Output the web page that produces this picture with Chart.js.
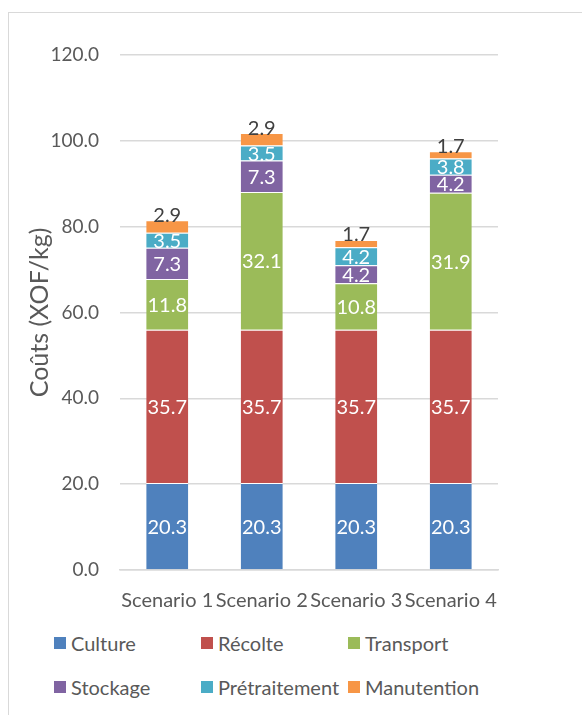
<!DOCTYPE html>
<html>
<head>
<meta charset="utf-8">
<script src="https://cdn.jsdelivr.net/npm/chart.js@4"></script>
<style>
  body { margin: 0; background: #fff; font-family: Lato, sans-serif; }
  #frame { position: absolute; left: 8px; top: 12px; width: 620px; height: 740px;
           border-left: 1px solid #d9d9d9; border-top: 1px solid #d9d9d9; }
  #wrap { position: absolute; left: 0; top: 0; width: 582px; height: 620px; }
  #legend { position: absolute; left: 54px; top: 628px; width: 520px;
            display: grid; grid-template-columns: 147px 147px 180px; row-gap: 14px;
            font-size: 20px; color: #595959; }
  .item { display: flex; align-items: center; height: 30px; white-space: nowrap; }
  .box { width: 12px; height: 12px; margin-right: 5px; flex: none; }
</style>
</head>
<body>
<div id="frame"></div>
<div id="wrap"><canvas id="chartCanvas"></canvas></div>
<div id="legend"></div>
<script>
// データ
const scenarios = ['Scenario 1', 'Scenario 2', 'Scenario 3', 'Scenario 4'];
const seriesNames = ['Culture', 'Récolte', 'Transport', 'Stockage', 'Prétraitement', 'Manutention'];
const culture = [20.3, 20.3, 20.3, 20.3];
const recolte = [35.7, 35.7, 35.7, 35.7];
const transport = [11.8, 32.1, 10.8, 31.9];
const stockage = [7.3, 7.3, 4.2, 4.2];
const pretraitement = [3.5, 3.5, 4.2, 3.8];
const manutention = [2.9, 2.9, 1.7, 1.7];
const colors = ['#4F81BD', '#C0504D', '#9BBB59', '#8064A2', '#4BACC6', '#F79646'];

const allValues = [culture, recolte, transport, stockage, pretraitement, manutention];

// ラベル描画プラグイン
const valueLabels = {
    id: 'valueLabels',
    afterDatasetsDraw(chart) {
        const ctx = chart.ctx;
        ctx.save();
        ctx.font = '20px Lato';
        ctx.textAlign = 'center';
        chart.data.datasets.forEach((ds, i) => {
            const meta = chart.getDatasetMeta(i);
            meta.data.forEach((bar, j) => {
                const txt = ds.data[j].toFixed(1);
                if (i === chart.data.datasets.length - 1) {
                    ctx.fillStyle = '#404040';
                    ctx.textBaseline = 'bottom';
                    ctx.fillText(txt, bar.x, bar.y + 5);
                } else {
                    ctx.fillStyle = '#ffffff';
                    ctx.textBaseline = 'middle';
                    ctx.fillText(txt, bar.x, (bar.y + bar.base) / 2 + 1);
                }
            });
        });
        ctx.restore();
    }
};

const datasets = seriesNames.map((name, i) => ({
    label: name,
    data: allValues[i],
    backgroundColor: colors[i],
    borderColor: '#ffffff',
    borderWidth: { top: 1, bottom: 0, left: 0, right: 0 },
    borderSkipped: false,
    barPercentage: 0.445,
    categoryPercentage: 1.0
}));

const ctx = document.getElementById('chartCanvas').getContext('2d');
new Chart(ctx, {
    type: 'bar',
    data: { labels: scenarios, datasets: datasets },
    options: {
        responsive: true,
        maintainAspectRatio: false,
        animation: false,
        layout: { padding: { left: 0, right: 84, top: 55, bottom: 0 } },
        plugins: {
            legend: { display: false },
            tooltip: { enabled: false }
        },
        scales: {
            x: {
                stacked: true,
                grid: { display: false, drawTicks: false },
                border: { display: true, color: '#d9d9d9', width: 1.5 },
                ticks: { color: '#595959', font: { family: 'Lato', size: 20 }, padding: 19, maxRotation: 0, autoSkip: false },
                afterFit(scale) { scale.height = 50; }
            },
            y: {
                stacked: true,
                min: 0,
                max: 120,
                ticks: {
                    stepSize: 20,
                    color: '#595959',
                    font: { family: 'Lato', size: 19 },
                    padding: 21,
                    callback: v => v.toFixed(1)
                },
                grid: { color: '#d9d9d9', lineWidth: 1.5, drawTicks: false },
                border: { display: false },
                title: {
                    display: true,
                    text: 'Coûts (XOF/kg)',
                    color: '#595959',
                    font: { family: 'Lato', size: 25 },
                    padding: { top: 25, bottom: 0 }
                },
                afterFit(scale) { scale.width = 120; }
            }
        }
    },
    plugins: [valueLabels]
});

// 凡例
const legend = document.getElementById('legend');
seriesNames.forEach((name, i) => {
    const item = document.createElement('div');
    item.className = 'item';
    item.innerHTML = `<span class="box" style="background:${colors[i]}"></span>${name}`;
    legend.appendChild(item);
});
</script>
</body>
</html>
